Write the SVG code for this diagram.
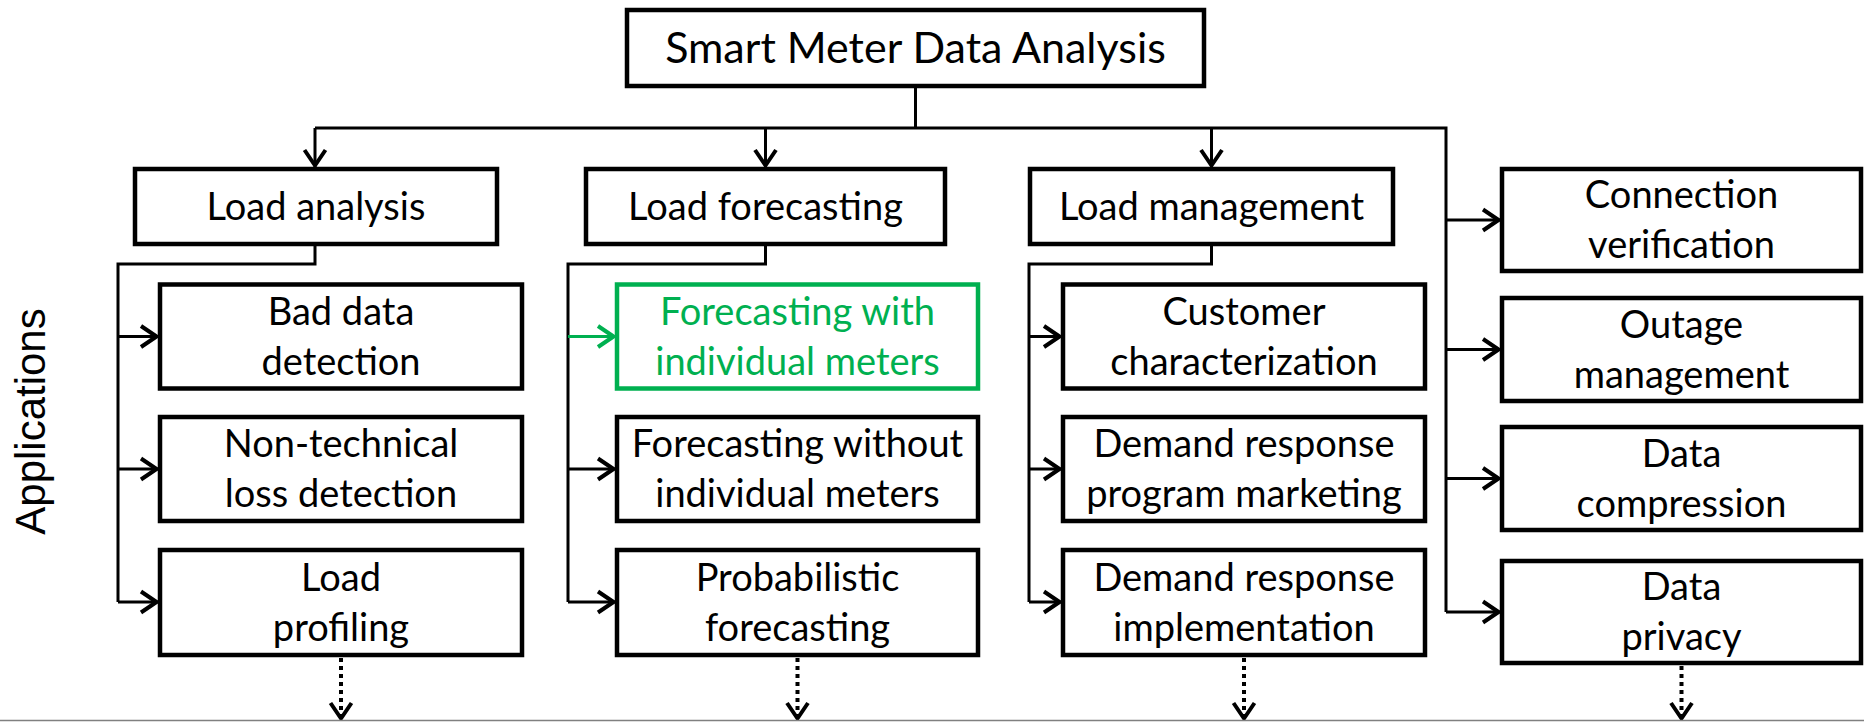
<svg xmlns="http://www.w3.org/2000/svg" width="1864" height="722" viewBox="0 0 1864 722">
<style>
.box{fill:#fff;stroke:#000;stroke-width:4.5}
.gbox{fill:#fff;stroke:#00B050;stroke-width:4.5}
.t{font-family:Lato,"Liberation Sans",sans-serif;font-size:38px;fill:#000;text-anchor:middle}
.gt{fill:#00B050}
.title{font-size:43px}
.ln{fill:none;stroke:#000;stroke-width:3}
.arr{marker-end:url(#ah)}
.garr{fill:none;stroke:#00B050;stroke-width:3;marker-end:url(#gah)}
.dot{fill:none;stroke:#000;stroke-width:4;stroke-dasharray:4 4;marker-end:url(#ah)}
.side{font-family:"Liberation Sans",Arial,sans-serif;font-size:42px;fill:#000;text-anchor:middle}
</style>
<defs>
<marker id="ah" markerUnits="userSpaceOnUse" markerWidth="40" markerHeight="40" viewBox="-20 -20 40 40" refX="0" refY="0" orient="auto" overflow="visible">
<path d="M-17,-10.5 L-1.5,0 L-17,10.5" fill="none" stroke="#000" stroke-width="4" stroke-linejoin="round"/>
</marker>
<marker id="gah" markerUnits="userSpaceOnUse" markerWidth="40" markerHeight="40" viewBox="-20 -20 40 40" refX="0" refY="0" orient="auto" overflow="visible">
<path d="M-17,-10.5 L-1.5,0 L-17,10.5" fill="none" stroke="#00B050" stroke-width="4" stroke-linejoin="round"/>
</marker>
</defs>

<g id="connectors">
<path class="ln" d="M915.5,86 V128 M315,128 H1446 V612 M315,244 V264 H118 V602 M765.5,244 V264 H568 V602 M1211.5,244 V264 H1029 V602"/>
<line class="ln arr" x1="315" y1="128" x2="315" y2="167"/>
<line class="ln arr" x1="765.5" y1="128" x2="765.5" y2="167"/>
<line class="ln arr" x1="1211.5" y1="128" x2="1211.5" y2="167"/>
<line class="ln arr" x1="118" y1="336.5" x2="158" y2="336.5"/>
<line class="ln arr" x1="118" y1="469" x2="158" y2="469"/>
<line class="ln arr" x1="118" y1="602" x2="158" y2="602"/>
<line class="garr" x1="568" y1="336.5" x2="615" y2="336.5"/>
<line class="ln arr" x1="568" y1="469" x2="615" y2="469"/>
<line class="ln arr" x1="568" y1="602" x2="615" y2="602"/>
<line class="ln arr" x1="1029" y1="336.5" x2="1061" y2="336.5"/>
<line class="ln arr" x1="1029" y1="469" x2="1061" y2="469"/>
<line class="ln arr" x1="1029" y1="602" x2="1061" y2="602"/>
<line class="ln arr" x1="1446" y1="220" x2="1500" y2="220"/>
<line class="ln arr" x1="1446" y1="349.5" x2="1500" y2="349.5"/>
<line class="ln arr" x1="1446" y1="478.5" x2="1500" y2="478.5"/>
<line class="ln arr" x1="1446" y1="612" x2="1500" y2="612"/>
<line class="dot" x1="341" y1="658" x2="341" y2="720"/>
<line class="dot" x1="797.5" y1="658" x2="797.5" y2="720"/>
<line class="dot" x1="1244" y1="658" x2="1244" y2="720"/>
<line class="dot" x1="1681.5" y1="666" x2="1681.5" y2="720"/>
</g>

<line x1="0" y1="720.5" x2="1864" y2="720.5" stroke="#808080" stroke-width="1.5"/>

<text class="side" transform="translate(45,421.5) rotate(-90)">Applications</text>

<g id="root"><rect class="box" x="627" y="10" width="577" height="76"/><text class="t title" x="915.5" y="63">Smart Meter Data Analysis</text></g>

<g id="load-analysis"><rect class="box" x="135" y="169" width="362" height="75"/><text class="t" x="316" y="220">Load analysis</text></g>
<g id="load-forecasting"><rect class="box" x="586" y="169" width="359" height="75"/><text class="t" x="765.5" y="220">Load forecasting</text></g>
<g id="load-management"><rect class="box" x="1030" y="169" width="363" height="75"/><text class="t" x="1211.5" y="220">Load management</text></g>

<g id="bad-data"><rect class="box" x="160" y="284.5" width="362" height="104"/><text class="t" x="341" y="324.5">Bad data</text><text class="t" x="341" y="374.5">detection</text></g>
<g id="ntl"><rect class="box" x="160" y="417" width="362" height="104"/><text class="t" x="341" y="457">Non-technical</text><text class="t" x="341" y="507">loss detection</text></g>
<g id="load-profiling"><rect class="box" x="160" y="550" width="362" height="105"/><text class="t" x="341" y="590.5">Load</text><text class="t" x="341" y="640.5">profiling</text></g>

<g id="fc-with"><rect class="gbox" x="617" y="284.5" width="361" height="104"/><text class="t gt" x="797.5" y="324.5">Forecasting with</text><text class="t gt" x="797.5" y="374.5">individual meters</text></g>
<g id="fc-without"><rect class="box" x="617" y="417" width="361" height="104"/><text class="t" x="797.5" y="457">Forecasting without</text><text class="t" x="797.5" y="507">individual meters</text></g>
<g id="fc-prob"><rect class="box" x="617" y="550" width="361" height="105"/><text class="t" x="797.5" y="590.5">Probabilistic</text><text class="t" x="797.5" y="640.5">forecasting</text></g>

<g id="cust-char"><rect class="box" x="1063" y="284.5" width="362" height="104"/><text class="t" x="1244" y="324.5">Customer</text><text class="t" x="1244" y="374.5">characterization</text></g>
<g id="dr-marketing"><rect class="box" x="1063" y="417" width="362" height="104"/><text class="t" x="1244" y="457">Demand response</text><text class="t" x="1244" y="507">program marketing</text></g>
<g id="dr-impl"><rect class="box" x="1063" y="550" width="362" height="105"/><text class="t" x="1244" y="590.5">Demand response</text><text class="t" x="1244" y="640.5">implementation</text></g>

<g id="conn-verif"><rect class="box" x="1502" y="169" width="359" height="102"/><text class="t" x="1681.5" y="208">Connection</text><text class="t" x="1681.5" y="258">verification</text></g>
<g id="outage"><rect class="box" x="1502" y="298" width="359" height="103"/><text class="t" x="1681.5" y="337.5">Outage</text><text class="t" x="1681.5" y="387.5">management</text></g>
<g id="compression"><rect class="box" x="1502" y="427" width="359" height="103"/><text class="t" x="1681.5" y="466.5">Data</text><text class="t" x="1681.5" y="516.5">compression</text></g>
<g id="privacy"><rect class="box" x="1502" y="561" width="359" height="102"/><text class="t" x="1681.5" y="600">Data</text><text class="t" x="1681.5" y="650">privacy</text></g>
</svg>
